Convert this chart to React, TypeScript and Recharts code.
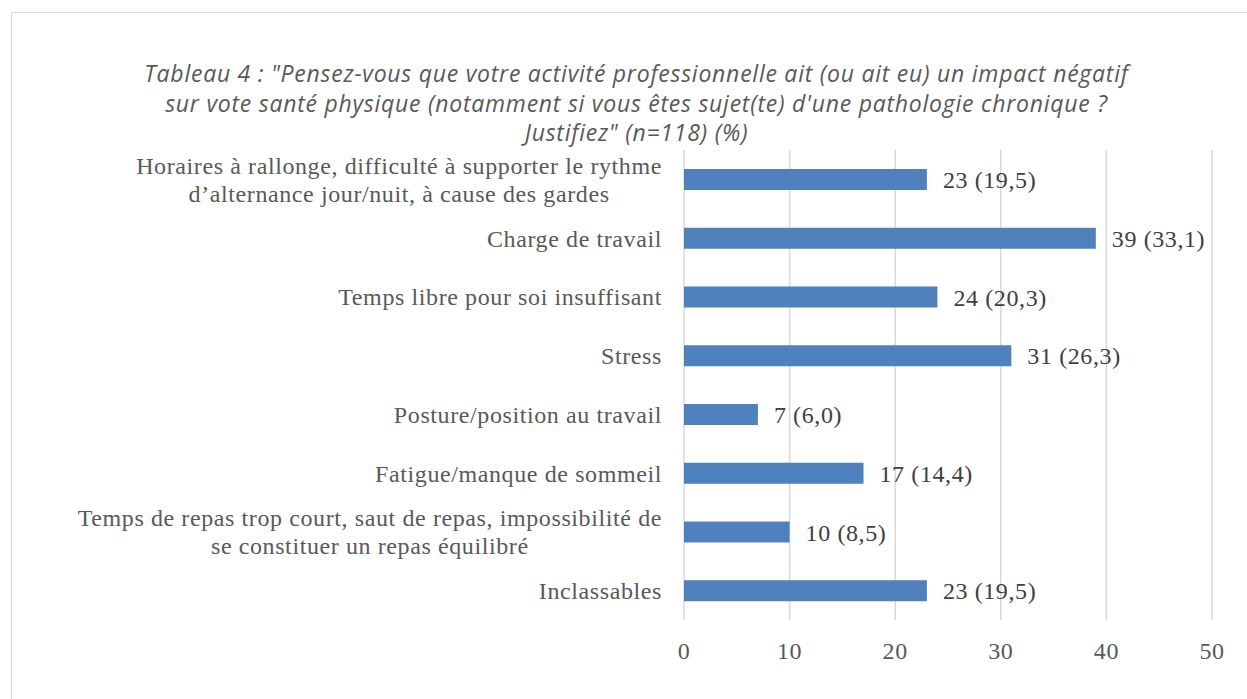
import { BarChart, Bar, XAxis, YAxis, CartesianGrid, LabelList } from "recharts";

// categories top to bottom, lines split where the original wraps them
const categories = [
	"Horaires à rallonge, difficulté à supporter le rythme\nd’alternance jour/nuit, à cause des gardes",
	"Charge de travail",
	"Temps libre pour soi insuffisant",
	"Stress",
	"Posture/position au travail",
	"Fatigue/manque de sommeil",
	"Temps de repas trop court, saut de repas, impossibilité de\nse constituer un repas équilibré",
	"Inclassables",
];
const counts = [23, 39, 24, 31, 7, 17, 10, 23];
const percents = ["19,5", "33,1", "20,3", "26,3", "6,0", "14,4", "8,5", "19,5"];
const xTicks = [0, 10, 20, 30, 40, 50];

const titleLines = [
	"Tableau 4 : \"Pensez-vous que votre activité professionnelle ait (ou ait eu) un impact négatif",
	"sur vote santé physique (notamment si vous êtes sujet(te) d'une pathologie chronique ?",
	"Justifiez\" (n=118) (%)",
];

const serif = "'Liberation Serif', serif";
const labelSize = 24;
const spacing = 0.6;

const data = categories.map((name, i) => ({
	name,
	value: counts[i],
	label: `${counts[i]} (${percents[i]})`,
}));

// measure text so wrapped labels can be centred on each other like Excel does
let canvas: HTMLCanvasElement | null = null;
const measure = (text: string) => {
	if (!canvas) canvas = document.createElement("canvas");
	const ctx = canvas.getContext("2d")!;
	ctx.font = `${labelSize}px ${serif}`;
	return ctx.measureText(text).width + spacing * text.length;
};

const CategoryTick = (props: any) => {
	const { x, y, payload } = props;
	const lines: string[] = String(payload.value).split("\n");
	const widest = Math.max(...lines.map(measure));
	const cx = x - widest / 2;
	const lineHeight = 28;
	const start = -((lines.length - 1) * lineHeight) / 2;
	return (
		<text
			x={cx}
			y={y}
			textAnchor="middle"
			fill="#595959"
			fontFamily={serif}
			fontSize={labelSize}
			letterSpacing={spacing}
		>
			{lines.map((line, i) => (
				<tspan key={i} x={cx} y={y + start + i * lineHeight} dy="0.35em">
					{line}
				</tspan>
			))}
		</text>
	);
};

export default function App() {
	return (
		<div
			style={{
				position: "absolute",
				left: 0,
				top: 0,
				width: 1247,
				height: 699,
				overflow: "hidden",
				background: "#fff",
			}}
		>
			<div
				style={{
					position: "absolute",
					left: 11,
					top: 12,
					width: 1260,
					height: 720,
					border: "1.5px solid #d9d9d9",
				}}
			/>
			<div
				style={{
					position: "absolute",
					left: 0,
					top: 59,
					width: 1273,
					textAlign: "center",
					fontFamily: "'Open Sans', sans-serif",
					fontStyle: "italic",
					fontSize: 23,
					letterSpacing: 0.75,
					lineHeight: "29.5px",
					color: "#595959",
				}}
			>
				{titleLines.map((t) => (
					<div key={t}>{t}</div>
				))}
			</div>
			<div style={{ position: "absolute", left: 0, top: 0 }}>
				<BarChart
					width={1247}
					height={699}
					data={data}
					layout="vertical"
					margin={{ top: 150, right: 35, bottom: 49, left: 10 }}
				>
					<CartesianGrid
						horizontal={false}
						stroke="#d9d9d9"
						strokeWidth={1.5}
					/>
					<XAxis
						type="number"
						domain={[0, 50]}
						ticks={xTicks}
						axisLine={false}
						tickLine={false}
						height={30}
						tickMargin={16}
						tick={{
							fill: "#595959",
							fontFamily: serif,
							fontSize: labelSize,
							letterSpacing: spacing,
						}}
					/>
					<YAxis
						type="category"
						dataKey="name"
						width={674}
						axisLine={false}
						tickLine={false}
						tickSize={0}
						tickMargin={22}
						interval={0}
						tick={<CategoryTick />}
					/>
					<Bar
						dataKey="value"
						fill="#4f81bd"
						barSize={21}
						isAnimationActive={false}
					>
						<LabelList
							dataKey="label"
							position="right"
							offset={16}
							fill="#404040"
							fontFamily={serif}
							fontSize={labelSize}
							letterSpacing={spacing}
						/>
					</Bar>
				</BarChart>
			</div>
		</div>
	);
}
